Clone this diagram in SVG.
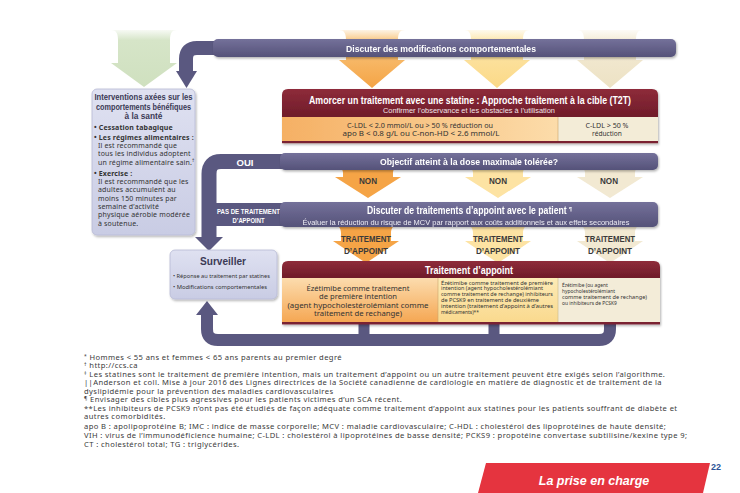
<svg xmlns="http://www.w3.org/2000/svg" width="740" height="493" viewBox="0 0 740 493">
<defs>
<style>
.cond{font-family:"Liberation Sans",Arial,sans-serif;font-weight:bold}
.body{font-family:"Noto Sans","Open Sans",sans-serif;fill:#333}
.wt{fill:#ffffff}
.dk{fill:#3b3a55}
.bar{fill:url(#gBar)}
.conn{fill:none;stroke:#5a5880;stroke-linejoin:round}
.head{fill:#5a5880}
.lab{fill:#3a3a3a}
.foot{font-family:"Noto Sans","Open Sans",sans-serif;font-size:7.6px;letter-spacing:0.4px;fill:#3a3a3a}
</style>
<linearGradient id="gBar" x1="0" y1="0" x2="0" y2="1"><stop offset="0" stop-color="#74719a"/><stop offset="1" stop-color="#555279"/></linearGradient>
<linearGradient id="gRed" x1="0" y1="0" x2="0" y2="1"><stop offset="0" stop-color="#8e2c3a"/><stop offset="1" stop-color="#6f1b29"/></linearGradient>
<linearGradient id="gGreen" x1="0" y1="0" x2="0" y2="1"><stop offset="0" stop-color="#d6e5c8" stop-opacity="0.2"/><stop offset="0.18" stop-color="#d6e5c8"/><stop offset="1" stop-color="#cfe0bf"/></linearGradient>
<linearGradient id="gOr" x1="0" y1="0" x2="0" y2="1"><stop offset="0" stop-color="#f9c47c" stop-opacity="0.2"/><stop offset="0.2" stop-color="#f9c47c"/><stop offset="1" stop-color="#f4a445"/></linearGradient>
<linearGradient id="gYe" x1="0" y1="0" x2="0" y2="1"><stop offset="0" stop-color="#fde5a8" stop-opacity="0.2"/><stop offset="0.2" stop-color="#fde5a8"/><stop offset="1" stop-color="#fbd987"/></linearGradient>
<linearGradient id="gCr" x1="0" y1="0" x2="0" y2="1"><stop offset="0" stop-color="#f3ead4" stop-opacity="0.2"/><stop offset="0.2" stop-color="#f3ead4"/><stop offset="1" stop-color="#ede2c4"/></linearGradient>
<linearGradient id="gLav" x1="0" y1="0" x2="0" y2="1"><stop offset="0" stop-color="#dfe1f1"/><stop offset="1" stop-color="#c9cce4"/></linearGradient>
<linearGradient id="gCellOr" x1="0" y1="0" x2="1" y2="0"><stop offset="0" stop-color="#f5b064"/><stop offset="1" stop-color="#fcdcaa"/></linearGradient>
<linearGradient id="gCellOr2" x1="0" y1="0" x2="0" y2="1"><stop offset="0" stop-color="#fcdcae"/><stop offset="1" stop-color="#f5a753"/></linearGradient>
<linearGradient id="gCellYe" x1="0" y1="0" x2="0" y2="1"><stop offset="0" stop-color="#fdebb6"/><stop offset="1" stop-color="#fad98e"/></linearGradient>
<filter id="sh" x="-10%" y="-20%" width="120%" height="150%"><feDropShadow dx="1" dy="1.5" stdDeviation="1" flood-color="#000" flood-opacity="0.3"/></filter>
</defs>
<rect x="0" y="0" width="740" height="493" fill="#ffffff"/>

<g id="connectors">
  <!-- pale funnel arrows -->
  <path fill="url(#gGreen)" d="M111,30 C116,30 118,33 118,40 L118,63 L111,63 L144,87 L177,63 L170,63 L170,40 C170,33 172,30 177,30 Z"/>
  <path fill="url(#gOr)" d="M339,30 C344,30 346,33 346,40 L346,60 L339,60 L372,88 L405,60 L398,60 L398,40 C398,33 400,30 405,30 Z"/>
  <path fill="url(#gYe)" d="M464,30 C469,30 471,33 471,40 L471,60 L464,60 L497,88 L530,60 L523,60 L523,40 C523,33 525,30 530,30 Z"/>
  <path fill="url(#gCr)" d="M577,30 C582,30 584,33 584,40 L584,60 L577,60 L610,88 L643,60 L636,60 L636,40 C636,33 638,30 643,30 Z"/>

  <path fill="#f5a446" d="M335,166 C340,166 343,169 343,173 L343,177 L335,177 L368,198 L401,177 L393,177 L393,173 C393,169 396,166 401,166 Z"/>
  <path fill="#fde3a3" d="M465,166 C470,166 473,169 473,173 L473,177 L465,177 L498,198 L531,177 L523,177 L523,173 C523,169 526,166 531,166 Z"/>
  <path fill="#f2e9d2" d="M577,166 C582,166 585,169 585,173 L585,177 L577,177 L610,198 L643,177 L635,177 L635,173 C635,169 638,166 643,166 Z"/>

  <path fill="#f5a446" d="M333,224 C338,224 341,228 341,233 L341,241 L333,241 L366,263 L399,241 L391,241 L391,233 C391,228 394,224 399,224 Z"/>
  <path fill="#fde3a3" d="M465,224 C470,224 473,228 473,233 L473,241 L465,241 L498,263 L531,241 L523,241 L523,233 C523,228 526,224 531,224 Z"/>
  <path fill="#f2e9d2" d="M577,224 C582,224 585,228 585,233 L585,241 L577,241 L610,263 L643,241 L635,241 L635,233 C635,228 638,224 643,224 Z"/>

  <!-- dark connectors -->
  <path class="conn" stroke-width="14" d="M222,48 L197,48 Q186,48 186,59 L186,72"/>
  <polygon class="head" points="176,71 197,71 186.5,88"/>

  <path class="conn" stroke-width="15" d="M286,161.5 L221,161.5 Q209,161.5 209,174 L209,238"/>
  <polygon class="head" points="195,237 223,237 209,251"/>
  <rect class="head" x="209" y="203" width="80" height="23"/>

  <path class="conn" stroke-width="12" d="M207,314 L207,329 Q207,340 218,340 L599,340 Q610,340 610,329 L610,318"/>
  <path class="conn" stroke-width="11" d="M364,318 L364,340 M494,318 L494,340"/>
  <polygon class="head" points="196,315 218,315 207,301"/>

  <!-- connector labels -->
  <text class="cond wt" x="245" y="165.5" font-size="9" text-anchor="middle" textLength="17" lengthAdjust="spacingAndGlyphs">OUI</text>
  <text class="cond wt" x="248.5" y="214" font-size="8" text-anchor="middle" textLength="63" lengthAdjust="spacingAndGlyphs">PAS DE TRAITEMENT</text>
  <text class="cond wt" x="248.5" y="223" font-size="8" text-anchor="middle" textLength="32" lengthAdjust="spacingAndGlyphs">D’APPOINT</text>

  <text class="cond lab" x="368" y="184" font-size="9" text-anchor="middle" textLength="18" lengthAdjust="spacingAndGlyphs">NON</text>
  <text class="cond lab" x="498" y="184" font-size="9" text-anchor="middle" textLength="18" lengthAdjust="spacingAndGlyphs">NON</text>
  <text class="cond lab" x="609" y="184" font-size="9" text-anchor="middle" textLength="18" lengthAdjust="spacingAndGlyphs">NON</text>

  <text class="cond lab" x="366" y="242" font-size="9.5" text-anchor="middle" textLength="50" lengthAdjust="spacingAndGlyphs">TRAITEMENT</text>
  <text class="cond lab" x="366" y="254" font-size="9.5" text-anchor="middle" textLength="44" lengthAdjust="spacingAndGlyphs">D’APPOINT</text>
  <text class="cond lab" x="498" y="242" font-size="9.5" text-anchor="middle" textLength="50" lengthAdjust="spacingAndGlyphs">TRAITEMENT</text>
  <text class="cond lab" x="498" y="254" font-size="9.5" text-anchor="middle" textLength="44" lengthAdjust="spacingAndGlyphs">D’APPOINT</text>
  <text class="cond lab" x="610" y="242" font-size="9.5" text-anchor="middle" textLength="50" lengthAdjust="spacingAndGlyphs">TRAITEMENT</text>
  <text class="cond lab" x="610" y="254" font-size="9.5" text-anchor="middle" textLength="44" lengthAdjust="spacingAndGlyphs">D’APPOINT</text>
</g>

<g id="discuter-modifications" filter="url(#sh)">
  <rect class="bar" x="213" y="39" width="463" height="18" rx="5"/>
  <text class="cond wt" x="441" y="51.5" font-size="9.5" text-anchor="middle" textLength="190" lengthAdjust="spacingAndGlyphs">Discuter des modifications comportementales</text>
</g>

<g id="interventions">
  <rect x="92" y="89" width="103" height="146" rx="5" fill="url(#gLav)" stroke="#b7bad6" stroke-width="0.8" filter="url(#sh)"/>
  <text class="cond dk" x="143.5" y="100" font-size="9" text-anchor="middle" textLength="98" lengthAdjust="spacingAndGlyphs">Interventions axées sur les</text>
  <text class="cond dk" x="143.5" y="109.5" font-size="9" text-anchor="middle" textLength="95" lengthAdjust="spacingAndGlyphs">comportements bénéfiques</text>
  <text class="cond dk" x="143.5" y="119" font-size="9" text-anchor="middle" textLength="38" lengthAdjust="spacingAndGlyphs">à la santé</text>
  <g class="body" font-size="7" letter-spacing="0.15">
    <text x="94" y="129.5" font-weight="bold">• Cessation tabagique</text>
    <text x="94" y="139.5" font-weight="bold">• Les régimes alimentaires :</text>
    <text x="98" y="147.5">Il est recommandé que</text>
    <text x="98" y="156">tous les individus adoptent</text>
    <text x="98" y="164.5">un régime alimentaire sain.<tspan font-size="4.5" dy="-2.5">†</tspan></text>
    <text x="94" y="175.5" font-weight="bold">• Exercise :</text>
    <text x="98" y="184">Il est recommandé que les</text>
    <text x="98" y="192.3">adultes accumulent au</text>
    <text x="98" y="200.6">moins 150 minutes par</text>
    <text x="98" y="208.9">semaine d’activité</text>
    <text x="98" y="217.2" textLength="92" lengthAdjust="spacingAndGlyphs">physique aérobie modérée</text>
    <text x="98" y="225.5">à soutenue.</text>
  </g>
</g>

<g id="amorcer">
  <g filter="url(#sh)">
    <path d="M282,95 Q282,89 288,89 L652,89 Q658,89 658,95 L658,117 L282,117 Z" fill="url(#gRed)"/>
    <rect x="282" y="117" width="276" height="24" fill="url(#gCellOr)"/>
    <rect x="558" y="117" width="100" height="24" fill="#f3ecd7"/>
    <line x1="558" y1="117" x2="558" y2="141" stroke="#c9a56c" stroke-width="0.6"/>
    <rect x="282" y="141" width="376" height="2.2" fill="#7a2030"/>
  </g>
  <text class="cond wt" x="470" y="104" font-size="10.5" text-anchor="middle" textLength="322" lengthAdjust="spacingAndGlyphs">Amorcer un traitement avec une statine : Approche traitement à la cible (T2T)</text>
  <text x="469" y="113" font-family="Liberation Sans,Arial,sans-serif" font-size="8" fill="#f1e6e8" text-anchor="middle" textLength="172" lengthAdjust="spacingAndGlyphs">Confirmer l’observance et les obstacles à l’utilisation</text>
  <text class="body" x="420" y="128" font-size="6.6" text-anchor="middle" textLength="146" lengthAdjust="spacingAndGlyphs">C-LDL &lt; 2.0 mmol/L ou &gt; 50 % réduction ou</text>
  <text class="body" x="421" y="136" font-size="6.6" text-anchor="middle" textLength="157" lengthAdjust="spacingAndGlyphs">apo B &lt; 0.8 g/L ou C-non-HD &lt; 2.6 mmol/L</text>
  <text class="body" x="607" y="128" font-size="6.6" text-anchor="middle" textLength="43" lengthAdjust="spacingAndGlyphs">C-LDL &gt; 50 %</text>
  <text class="body" x="607" y="136" font-size="6.6" text-anchor="middle">réduction</text>
</g>

<g id="objectif" filter="url(#sh)">
  <rect class="bar" x="280" y="153" width="378" height="17" rx="5"/>
  <text class="cond wt" x="469" y="164.5" font-size="9.5" text-anchor="middle" textLength="178" lengthAdjust="spacingAndGlyphs">Objectif atteint à la dose maximale tolérée?</text>
</g>

<g id="discuter-appoint" filter="url(#sh)">
  <rect class="bar" x="280" y="202" width="378" height="25" rx="5"/>
  <text class="cond wt" x="367" y="213.5" font-size="10" textLength="205" lengthAdjust="spacingAndGlyphs">Discuter de traitements d’appoint avec le patient <tspan font-size="6" dy="-3">¶</tspan></text>
  <text x="466" y="224.5" font-family="Liberation Sans,Arial,sans-serif" font-size="8" fill="#eeedf5" text-anchor="middle" textLength="327" lengthAdjust="spacingAndGlyphs">Évaluer la réduction du risque de MCV par rapport aux coûts additionnels et aux effets secondaires</text>
</g>

<g id="surveiller">
  <rect x="170" y="250" width="107" height="49" rx="5" fill="url(#gLav)" stroke="#b7bad6" stroke-width="0.8" filter="url(#sh)"/>
  <text class="cond dk" x="223" y="265" font-size="10.5" text-anchor="middle" textLength="46" lengthAdjust="spacingAndGlyphs">Surveiller</text>
  <text class="body" x="173" y="277.5" font-size="5.8" textLength="97" lengthAdjust="spacingAndGlyphs">• Réponse au traitement par statines</text>
  <text class="body" x="173" y="289" font-size="5.8" textLength="94" lengthAdjust="spacingAndGlyphs">• Modifications comportementales</text>
</g>

<g id="traitement-appoint">
  <g filter="url(#sh)">
    <path d="M282,267 Q282,261 288,261 L654,261 Q660,261 660,267 L660,278 L282,278 Z" fill="url(#gRed)"/>
    <rect x="282" y="278" width="156" height="44" fill="url(#gCellOr2)"/>
    <rect x="438" y="278" width="120" height="44" fill="url(#gCellYe)"/>
    <rect x="558" y="278" width="102" height="44" fill="#f3ecd8"/>
    <line x1="438" y1="278" x2="438" y2="322" stroke="#c9a56c" stroke-width="0.6"/>
    <line x1="558" y1="278" x2="558" y2="322" stroke="#c9b98c" stroke-width="0.6"/>
    <rect x="282" y="322" width="378" height="2.4" fill="#7a2030"/>
  </g>
  <text class="cond wt" x="469" y="273.5" font-size="10.5" text-anchor="middle" textLength="88" lengthAdjust="spacingAndGlyphs">Traitement d’appoint</text>
  <g class="body" font-size="7.4" text-anchor="middle">
    <text x="358" y="290.5" textLength="103" lengthAdjust="spacingAndGlyphs">Ézétimibe comme traitement</text>
    <text x="358" y="299" textLength="78" lengthAdjust="spacingAndGlyphs">de première intention</text>
    <text x="358" y="307.5" textLength="141" lengthAdjust="spacingAndGlyphs">(agent hypocholestérolémiant comme</text>
    <text x="358" y="316" textLength="88" lengthAdjust="spacingAndGlyphs">traitement de rechange)</text>
  </g>
  <g class="body" font-size="4.9">
    <text x="441" y="284.5" textLength="112" lengthAdjust="spacingAndGlyphs">Ézétimibe comme traitement de première</text>
    <text x="441" y="290.4" textLength="102" lengthAdjust="spacingAndGlyphs">intention (agent hypocholestérolémiant</text>
    <text x="441" y="296.3" textLength="112" lengthAdjust="spacingAndGlyphs">comme traitement de rechange) inhibiteurs</text>
    <text x="441" y="302.2" textLength="98" lengthAdjust="spacingAndGlyphs">de PCSK9 en traitement de deuxième</text>
    <text x="441" y="308.1" textLength="112" lengthAdjust="spacingAndGlyphs">intention (traitement d’appoint à d’autres</text>
    <text x="441" y="314">médicaments)**</text>
    <text x="562" y="287">Ézétimibe (ou agent</text>
    <text x="562" y="292.9">hypocholestérolémiant</text>
    <text x="562" y="298.8" textLength="85" lengthAdjust="spacingAndGlyphs">comme traitement de rechange)</text>
    <text x="562" y="304.7">ou inhibiteurs de PCSK9</text>
  </g>
</g>

<g id="footnotes" class="foot">
  <text x="84" y="359.5"><tspan font-size="5" dy="-2">*</tspan><tspan dy="2"> Hommes &lt; 55 ans et femmes &lt; 65 ans parents au premier degré</tspan></text>
  <text x="84" y="368"><tspan font-size="5" dy="-2">†</tspan><tspan dy="2"> http://ccs.ca</tspan></text>
  <text x="84" y="376.5"><tspan font-size="5" dy="-2">‡</tspan><tspan dy="2"> Les statines sont le traitement de première intention, mais un traitement d’appoint ou un autre traitement peuvent être exigés selon l’algorithme.</tspan></text>
  <text x="84" y="385">||Anderson et coll. Mise à jour 2016 des Lignes directrices de la Société canadienne de cardiologie en matière de diagnostic et de traitement de la</text>
  <text x="84" y="393.5">dyslipidémie pour la prévention des maladies cardiovasculaires</text>
  <text x="84" y="402"><tspan font-size="5" dy="-2">¶</tspan><tspan dy="2"> Envisager des cibles plus agressives pour les patients victimes d’un SCA récent.</tspan></text>
  <text x="84" y="410.5">**Les inhibiteurs de PCSK9 n’ont pas été étudiés de façon adéquate comme traitement d’appoint aux statines pour les patients souffrant de diabète et</text>
  <text x="84" y="419">autres comorbidités.</text>
  <text x="84" y="428.5">apo B : apolipoprotéine B; IMC : indice de masse corporelle; MCV : maladie cardiovasculaire; C-HDL : cholestérol des lipoprotéines de haute densité;</text>
  <text x="84" y="437.5">VIH : virus de l’immunodéficience humaine; C-LDL : cholestérol à lipoprotéines de basse densité; PCKS9 : propotéine convertase subtilisine/kexine type 9;</text>
  <text x="84" y="446.5">CT : cholestérol total; TG : triglycérides.</text>
</g>

<g id="footer">
  <polygon points="486,463 710,463 703,493 478,493" fill="#e5343f"/>
  <text x="594" y="485" font-family="Liberation Sans,Arial,sans-serif" font-weight="bold" font-style="italic" font-size="12.5" fill="#ffffff" text-anchor="middle">La prise en charge</text>
  <text x="711" y="470" font-family="Liberation Sans,Arial,sans-serif" font-weight="bold" font-size="9" fill="#2e5597">22</text>
</g>
</svg>
